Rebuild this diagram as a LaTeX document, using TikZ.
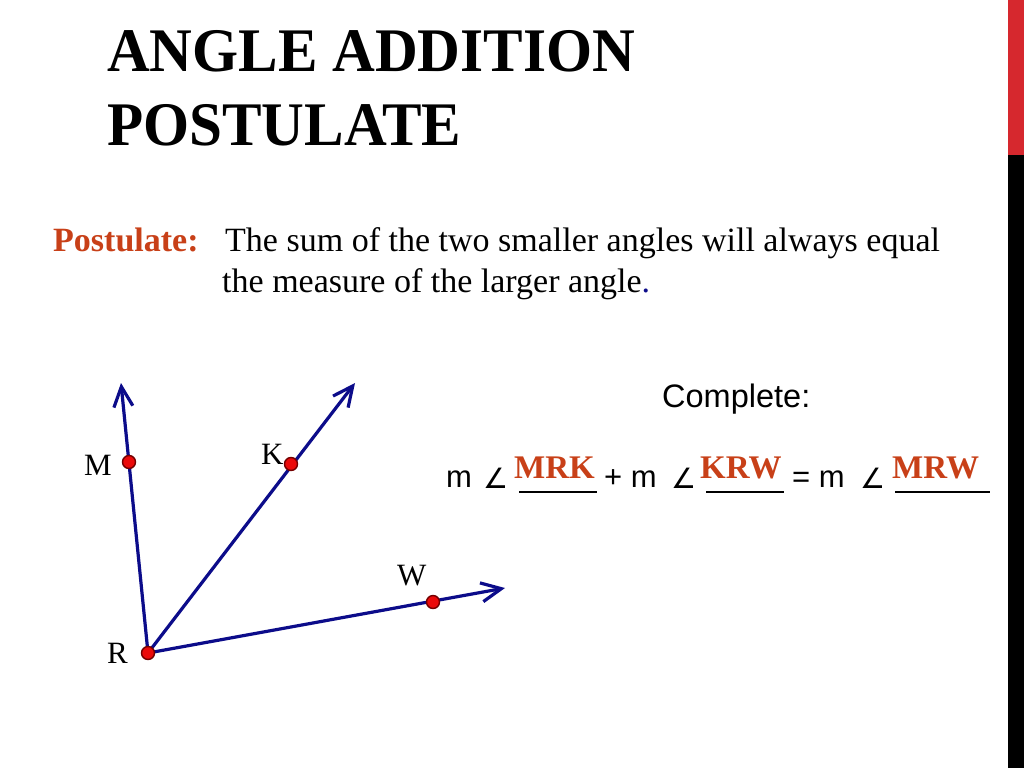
\documentclass[tikz,border=0pt]{standalone}
\usepackage{fontspec}
\setmainfont{Liberation Serif}
\setsansfont{Liberation Sans}
\newfontfamily\symfont{DejaVu Sans}
\newfontfamily\titlefont{Liberation Serif}[FakeStretch=0.955]
\usetikzlibrary{arrows.meta}
\definecolor{raycol}{RGB}{12,12,138}
\definecolor{accent}{RGB}{200,64,24}
\definecolor{barred}{RGB}{214,40,46}
\definecolor{ptred}{RGB}{235,10,10}
\begin{document}
\begin{tikzpicture}[x=1pt,y=-1pt,
  txt/.style={anchor=base west,inner sep=0pt},
  title/.style={txt,font=\titlefont\fontsize{62}{62}\selectfont\bfseries},
  body/.style={txt,font=\fontsize{34}{34}\selectfont},
  lbl/.style={txt,font=\fontsize{31}{31}\selectfont},
  eq/.style={txt,font=\sffamily\fontsize{31}{31}\selectfont},
  ang/.style={txt,font=\symfont\fontsize{28}{28}\selectfont},
  ans/.style={txt,font=\fontsize{33}{33}\selectfont\bfseries,text=accent},
  uline/.style={line width=1.4pt,black},
  rayline/.style={raycol,line width=3.2pt,-{Straight Barb[length=20pt,width=19pt,line width=3.2pt]}},
  pt/.style={circle,fill=ptred,draw=black!55!red,line width=1.4pt,inner sep=0pt,minimum size=13pt}]
\useasboundingbox (0,0) rectangle (1024,768);
\fill[white] (0,0) rectangle (1024,768);
\fill[barred] (1008,0) rectangle (1024,155);
\fill[black] (1008,155) rectangle (1024,768);
% title
\node[title] (t1) at (107,71) {ANGLE ADDITION};
\node[title] (t2) at (107,145) {POSTULATE};
% postulate
\node[body,font=\fontsize{34}{34}\selectfont\bfseries,text=accent] (pl) at (53,251) {Postulate:};
\node[body] (p1) at (225,251) {The sum of the two smaller angles will always equal};
\node[body] (p2) at (222,292) {the measure of the larger angle\textcolor{raycol}{.}};
% geometry
\coordinate (R) at (148,653);
\coordinate (M) at (129,462);
\coordinate (K) at (291,464);
\coordinate (W) at (433,602);
\coordinate (Me) at (121,383);
\coordinate (Ke) at (355,383);
\coordinate (We) at (505,588);
\draw[rayline] (R) -- (Me);
\draw[rayline] (R) -- (Ke);
\draw[rayline] (R) -- (We);
\node[pt] (pR) at (R) {};
\node[pt] (pM) at (M) {};
\node[pt] (pK) at (K) {};
\node[pt] (pW) at (W) {};
\node[lbl] (lM) at (84,475) {M};
\node[lbl] (lK) at (261,464) {K};
\node[lbl] (lW) at (397,585) {W};
\node[lbl] (lR) at (107,663) {R};
% complete
\node[eq,font=\sffamily\fontsize{32.5}{32.5}\selectfont] (cpl) at (662,407) {Complete:};
\node[eq] (e1) at (446,487) {m};
\node[ang] (a1) at (483,488) {∠};
\node[ans] (x1) at (514,478) {MRK};
\draw[uline] (519,492) -- (597,492);
\node[eq] (e2) at (604,487) {+ m};
\node[ang] (a2) at (671,488) {∠};
\node[ans] (x2) at (700,478) {KRW};
\draw[uline] (706,492) -- (784,492);
\node[eq] (e3) at (792,487) {= m};
\node[ang] (a3) at (860,488) {∠};
\node[ans] (x3) at (892,478) {MRW};
\draw[uline] (895,492) -- (990,492);
\end{tikzpicture}
\end{document}
